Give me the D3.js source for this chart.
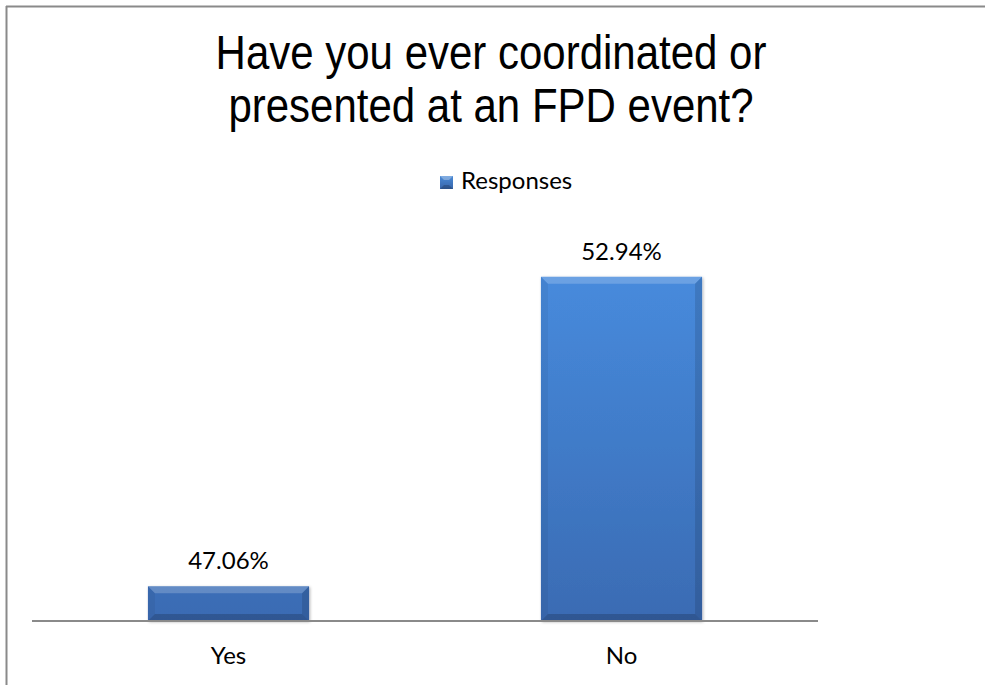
<!DOCTYPE html>
<html>
<head>
<meta charset="utf-8">
<script src="https://cdn.jsdelivr.net/npm/d3@7"></script>
<style>
  html, body { margin: 0; padding: 0; background: #fff; }
  svg { display: block; }
</style>
</head>
<body>
<svg id="chart" width="985" height="685"></svg>
<script>
const titleLines = ["Have you ever coordinated or", "presented at an FPD event?"];
const seriesName = "Responses";
const categories = ["Yes", "No"];
const values = [47.06, 52.94];
const valueLabels = ["47.06%", "52.94%"];
const yDomain = [46.4, 54];

const svg = d3.select("#chart");
const W = 985, H = 685;
const plot = { left: 32, right: 818, top: 221, bottom: 621 };
const bodyFont = "Lato, 'Open Sans', sans-serif";

// frame (top + left border only visible)
svg.append("line").attr("x1", 6).attr("x2", W).attr("y1", 6.5).attr("y2", 6.5)
  .attr("stroke", "#8a8a8a").attr("stroke-width", 2);
svg.append("line").attr("x1", 6.5).attr("x2", 6.5).attr("y1", 6).attr("y2", H)
  .attr("stroke", "#8a8a8a").attr("stroke-width", 2);

// title
titleLines.forEach((t, i) => {
  svg.append("g").attr("transform", `translate(491,${69 + i * 53}) scale(1,1.15)`)
    .append("text").attr("text-anchor", "middle")
    .attr("font-family", "'Liberation Sans', Arial, sans-serif")
    .attr("font-size", 42).attr("fill", "#000").text(t);
});

// gradients
const defs = svg.append("defs");
const g = defs.append("linearGradient").attr("id", "barGrad")
  .attr("gradientUnits", "userSpaceOnUse")
  .attr("x1", 0).attr("x2", 0).attr("y1", 270).attr("y2", plot.bottom);
g.append("stop").attr("offset", "0%").attr("stop-color", "#478bdd");
g.append("stop").attr("offset", "100%").attr("stop-color", "#3a6bb3");
const lgGrad = defs.append("linearGradient").attr("id", "legGrad")
  .attr("x1", 0).attr("x2", 0).attr("y1", 0).attr("y2", 1);
lgGrad.append("stop").attr("offset", "0%").attr("stop-color", "#4a8ad6");
lgGrad.append("stop").attr("offset", "100%").attr("stop-color", "#3866ab");
const f = defs.append("filter").attr("id", "shadow").attr("x", "-10%").attr("y", "-10%").attr("width", "130%").attr("height", "130%");
f.append("feDropShadow").attr("dx", 1).attr("dy", 1).attr("stdDeviation", 1.5).attr("flood-color", "#000").attr("flood-opacity", 0.3);

// scales
const x = d3.scaleBand().domain(categories).range([plot.left, plot.right]).paddingInner(0.59).paddingOuter(0.295);
const y = d3.scaleLinear().domain(yDomain).range([plot.bottom, plot.top]);

const data = categories.map((c, i) => ({ c, v: values[i], label: valueLabels[i] }));

// bars with bevel
const bev = 7;
const bars = svg.append("g").selectAll("g").data(data).join("g");
bars.each(function(d) {
  const gb = d3.select(this);
  const x0 = x(d.c), x1 = x0 + x.bandwidth();
  const y0 = y(d.v), y1 = plot.bottom;
  gb.append("rect").attr("x", x0).attr("y", y0).attr("width", x1 - x0).attr("height", y1 - y0)
    .attr("fill", "url(#barGrad)").attr("filter", "url(#shadow)");
  gb.append("path").attr("d", `M${x0},${y0} L${x1},${y0} L${x1 - bev},${y0 + bev} L${x0 + bev},${y0 + bev} Z`)
    .attr("fill", "#ffffff").attr("opacity", 0.2);
  gb.append("path").attr("d", `M${x0},${y0} L${x0 + bev},${y0 + bev} L${x0 + bev},${y1 - bev} L${x0},${y1} Z`)
    .attr("fill", "#000000").attr("opacity", 0.05);
  gb.append("path").attr("d", `M${x1},${y0} L${x1 - bev},${y0 + bev} L${x1 - bev},${y1 - bev} L${x1},${y1} Z`)
    .attr("fill", "#000000").attr("opacity", 0.12);
  gb.append("path").attr("d", `M${x0},${y1} L${x0 + bev},${y1 - bev} L${x1 - bev},${y1 - bev} L${x1},${y1} Z`)
    .attr("fill", "#000000").attr("opacity", 0.18);
});

// value labels
svg.append("g").selectAll("text").data(data).join("text")
  .attr("x", d => x(d.c) + x.bandwidth() / 2)
  .attr("y", d => y(d.v) - 17)
  .attr("text-anchor", "middle")
  .attr("font-family", bodyFont).attr("font-size", 24).attr("fill", "#000")
  .text(d => d.label);

// x axis
const xAxis = svg.append("g").attr("transform", `translate(0,${plot.bottom})`)
  .call(d3.axisBottom(x).tickSize(0).tickPadding(26));
xAxis.select(".domain").attr("stroke", "#8a8a8a").attr("stroke-width", 2)
  .attr("d", `M${plot.left},0H${plot.right}`);
xAxis.selectAll("text").attr("font-family", bodyFont).attr("font-size", 24).attr("fill", "#000");

// legend
const lg = svg.append("g").attr("transform", "translate(440,176)");
lg.append("rect").attr("width", 13).attr("height", 13).attr("fill", "url(#legGrad)");
lg.append("path").attr("d", "M0,0 L13,0 L9,4 L4,4 Z").attr("fill", "#fff").attr("opacity", 0.3);
lg.append("path").attr("d", "M0,13 L13,13 L9,9 L4,9 Z").attr("fill", "#000").attr("opacity", 0.2);
lg.append("text").attr("x", 21).attr("y", 13).attr("font-family", bodyFont)
  .attr("font-size", 24).attr("fill", "#000").text(seriesName);
</script>
</body>
</html>
